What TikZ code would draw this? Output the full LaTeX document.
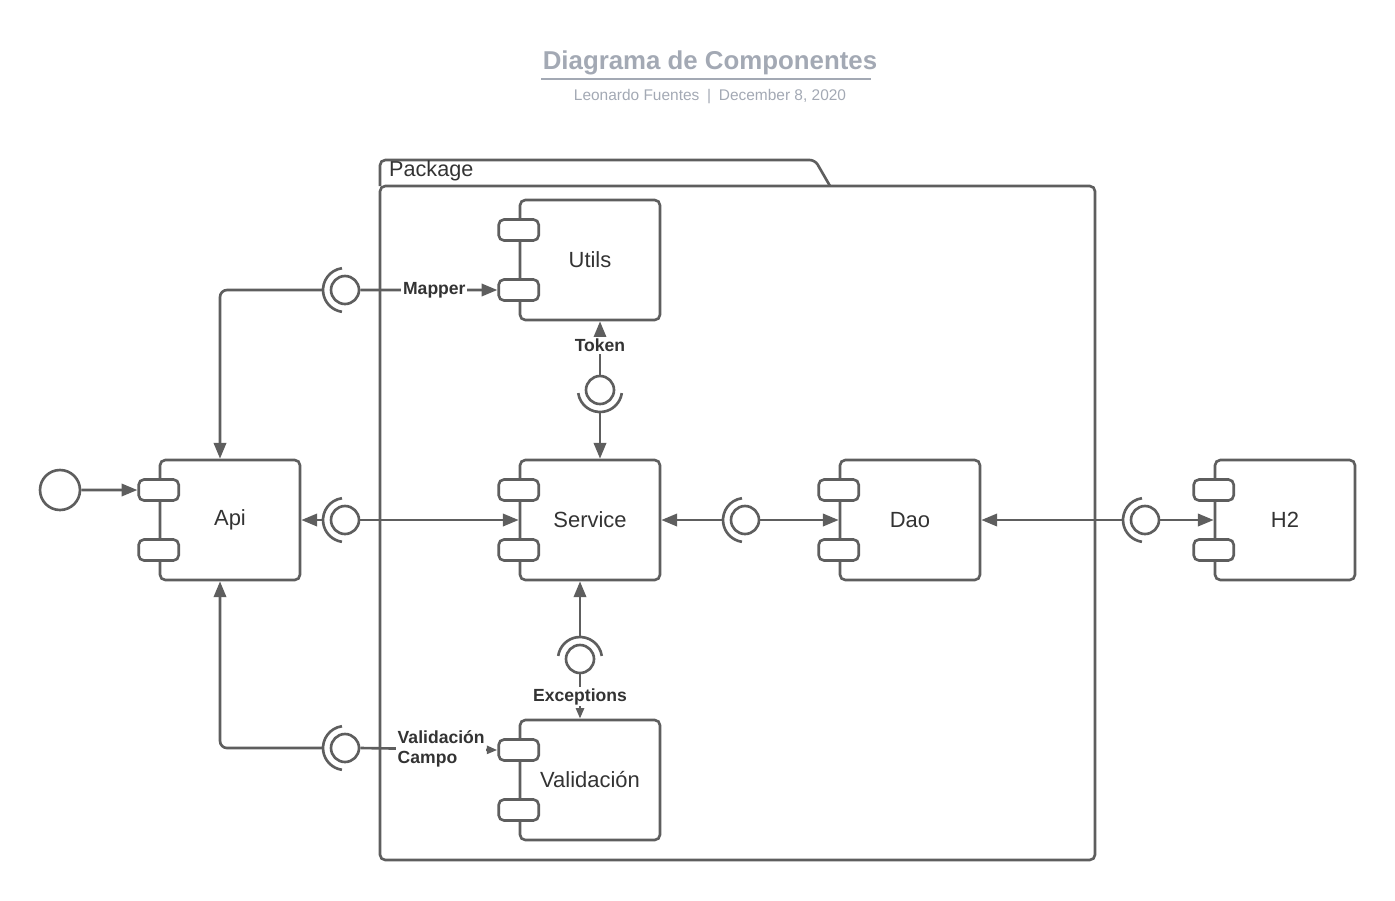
\documentclass[tikz,border=0pt]{standalone}
\usepackage{fontspec}
\setmainfont{Liberation Sans}
\usetikzlibrary{arrows.meta}
\definecolor{lineg}{HTML}{5E5E5E}
\definecolor{txtg}{HTML}{333333}
\definecolor{titleg}{HTML}{A3A9B4}
\tikzset{
	wire/.style={draw=lineg, line width=1.5pt},
	arr/.style={wire, -{Triangle[length=9pt,width=7pt]}},
	arrsmall/.style={wire, -{Triangle[length=6pt,width=4.5pt]}},
	compbox/.style={wire, rounded corners=3pt, minimum width=2.8cm, minimum height=2.4cm, text=txtg, font=\fontsize{12.5}{14}\selectfont},
	port/.style={wire, fill=white, rounded corners=3pt, minimum width=0.8cm, minimum height=0.42cm, inner sep=0pt},
	ball/.style={wire, circle, fill=white, minimum size=0.56cm, inner sep=0pt},
	sock/.style={circle, minimum size=0.88cm, inner sep=0pt, outer sep=0pt},
	lbl/.style={fill=white, text=txtg, font=\bfseries\fontsize{10}{11.5}\selectfont, inner sep=1pt},
}
\def\comp(#1)(#2)#3{\node[compbox] (#1) at (#2) {#3};
	\node[port] (#1-p1) at ([yshift=0.6cm]#1.west) {};
	\node[port] (#1-p2) at ([yshift=-0.6cm]#1.west) {};}
\def\sockarc(#1)(#2:#3){\draw[wire] ([shift={(#2:0.44cm)}]#1.center) arc[start angle=#2, end angle=#3, radius=0.44cm];}

\begin{document}
\begin{tikzpicture}[x=0.02cm, y=0.02cm]
			\useasboundingbox (0,0) rectangle (1395,-900);
			
			% title
			\node[text=titleg, font=\bfseries\fontsize{14.7}{17}\selectfont] (title) at (710,-63) {Diagrama de Componentes};
			\draw[titleg, line width=1pt] (541,-79) -- (871,-79);
			\node[text=titleg, font=\fontsize{8.8}{10}\selectfont] (sub) at (710,-97) {Leonardo Fuentes\enspace|\enspace December 8, 2020};
			
			% package
			\draw[wire, rounded corners=3pt] (380,-186) -- (380,-160) -- (815,-160) -- (830,-186);
			\draw[wire, rounded corners=3pt] (380,-186) rectangle (1095,-860);
			\node[anchor=west, text=txtg, font=\fontsize{12.3}{14}\selectfont] (pkg) at (383,-171) {Package};
			
			% components
			\comp(api)(230,-520){Api}
			\comp(utils)(590,-260){Utils}
			\comp(service)(590,-520){Service}
			\comp(dao)(910,-520){Dao}
			\comp(htwo)(1285,-520){H2}
			\comp(valid)(590,-780){Validación}
			
			\node[ball, minimum size=0.8cm] (start) at (60,-490) {};
			\draw[arr] (start.east) -- (api-p1.west);
			
			% interfaces
			\node[sock] (mapsock) at (345,-290) {};
			\node[sock] (apisock) at (345,-520) {};
			\node[sock] (valsock) at (345,-748) {};
			\node[sock] (daosock) at (745,-520) {};
			\node[sock] (h2sock) at (1145,-520) {};
			\node[sock] (toksock) at (600,-390) {};
			\node[sock] (excsock) at (580,-659) {};
			\sockarc(mapsock)(98:262)
			\sockarc(apisock)(98:262)
			\sockarc(valsock)(98:262)
			\sockarc(daosock)(98:262)
			\sockarc(h2sock)(98:262)
			\sockarc(toksock)(188:352)
			\sockarc(excsock)(8:172)
			\node[ball] (mapball) at (mapsock) {};
			\node[ball] (apiball) at (apisock) {};
			\node[ball] (valball) at (valsock) {};
			\node[ball] (daoball) at (daosock) {};
			\node[ball] (h2ball) at (h2sock) {};
			\node[ball] (tokball) at (toksock) {};
			\node[ball] (excball) at (excsock) {};
			
			% connectors
			\draw[arr, rounded corners=4pt] (mapsock.west) -| ([xshift=-0.2cm]api.north);
			\draw[arr] (mapball.east) -- node[lbl, pos=0.54] {Mapper} (utils-p2.west);
			\draw[arr] (apisock.west) -- (api.east);
			\draw[arr] (apiball.east) -- (service.west);
			\draw[arr, rounded corners=4pt] (valsock.west) -| ([xshift=-0.2cm]api.south);
			\draw[arrsmall] (valball.east) -- node[lbl, align=left, pos=0.59] {Validación\\Campo} (valid-p1.west);
			\draw[arr] (daosock.west) -- (service.east);
			\draw[arr] (daoball.east) -- (dao.west);
			\draw[arr] (h2sock.west) -- (dao.east);
			\draw[arr] (h2ball.east) -- (htwo.west);
			\draw[arr] (tokball.north) -- node[lbl, pos=0.55] {Token} (tokball |- utils.south);
			\draw[arr] (toksock.south) -- (toksock |- service.north);
			\draw[arr] (excsock.north) -- (excsock |- service.south);
			\draw[arrsmall] (excball.south) -- node[lbl] {Exceptions} (excball |- valid.north);
			
\end{tikzpicture}
\end{document}
